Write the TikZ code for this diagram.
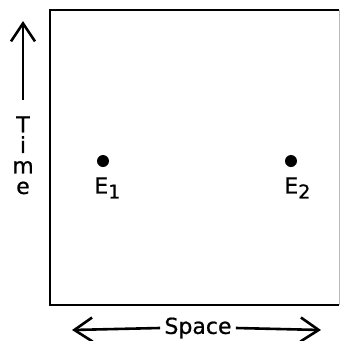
\documentclass[tikz,border=0pt]{standalone}
\usepackage{fontspec}
\newfontfamily\handfont[FakeBold=0.8]{DejaVu Sans}
\usetikzlibrary{arrows.meta, positioning}
\definecolor{EdgeGray}{rgb}{0.72, 0.72, 0.72}

\tikzset{
  evdot/.style={circle, fill=black, inner sep=0pt, minimum size=12pt},
  evlabel/.style={inner sep=0pt, anchor=north west},
  barb/.style={-{Straight Barb[length=18pt, width=24pt]}, line width=2.6pt}
}

\begin{document}
\begin{tikzpicture}[x=1pt, y=-1pt, font=\handfont\fontsize{22}{20.5}\selectfont, line width=2.8pt]
\useasboundingbox (0,0) rectangle (341,341);

% caja
\draw (339,10) -- (50,10) -- (50,305) -- (339,305);
\draw[EdgeGray, line width=1pt] (339,10) -- (339,305);

% eventos
\node[evdot] (e1) at (103,161) {};
\node[evlabel] (e1lab) at (93,176) {E\raisebox{-5pt}{\fontsize{19}{19}\selectfont 1}};
\node[evdot] (e2) at (291,161) {};
\node[evlabel] (e2lab) at (283,176) {E\raisebox{-5pt}{\fontsize{19}{19}\selectfont 2}};

% eje tiempo
\coordinate (timetop) at (23,21);
\node[align=center, inner sep=0pt, anchor=north] (time) at (23,115) {T\\i\\m\\e};
\draw[barb, shorten <=15pt] (time.north) -- (timetop);

% eje espacio
\coordinate (spaceleft) at (72,330);
\coordinate (spaceright) at (321,330);
\node[inner sep=3pt] (space) at (198,328) {Space};
\draw[barb] (space.west) -- (spaceleft);
\draw[barb] (space.east) -- (spaceright);

\end{tikzpicture}
\end{document}
